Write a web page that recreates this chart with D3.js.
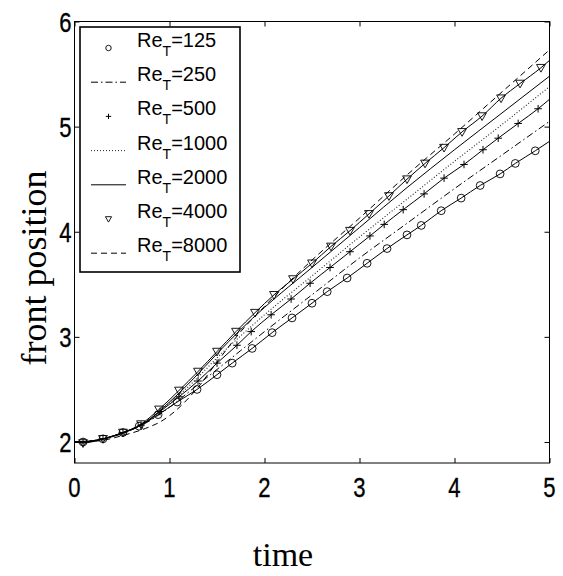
<!DOCTYPE html>
<html><head><meta charset="utf-8">
<script src="https://cdn.jsdelivr.net/npm/d3@7"></script>
<style>body{margin:0;background:#fff}svg{display:block}</style>
</head><body><svg id="c" width="563" height="576"></svg>
<script>
// ---- data ----
const xTicks = [0, 1, 2, 3, 4, 5];
const yTicks = [2, 3, 4, 5, 6];
const xLabel = "time";
const yLabel = "front position";

const t125 = [0, 0.09, 0.30, 0.51, 0.68, 0.88, 1.08, 1.29, 1.50, 1.66, 1.87, 2.08, 2.29, 2.50, 2.66, 2.87, 3.08, 3.29, 3.50, 3.65, 3.86, 4.07, 4.27, 4.48, 4.64, 4.85, 5.0];
const v125 = [2.00, 2.00, 2.03, 2.09, 2.15, 2.26, 2.38, 2.50, 2.64, 2.75, 2.89, 3.04, 3.18, 3.32, 3.43, 3.56, 3.70, 3.84, 3.97, 4.06, 4.20, 4.32, 4.44, 4.55, 4.65, 4.77, 4.86];

const t500 = [0, 0.09, 0.30, 0.51, 0.70, 0.90, 1.10, 1.30, 1.50, 1.71, 1.86, 2.07, 2.28, 2.48, 2.69, 2.90, 3.11, 3.26, 3.46, 3.68, 3.89, 4.10, 4.30, 4.46, 4.67, 4.88, 5.0];
const v500 = [2.00, 2.00, 2.03, 2.09, 2.16, 2.29, 2.43, 2.58, 2.75, 2.92, 3.05, 3.21, 3.36, 3.51, 3.66, 3.81, 3.96, 4.07, 4.21, 4.36, 4.51, 4.64, 4.78, 4.89, 5.03, 5.17, 5.26];

const t4000 = [0, 0.09, 0.30, 0.51, 0.70, 0.89, 1.10, 1.30, 1.50, 1.70, 1.90, 2.10, 2.30, 2.50, 2.70, 2.90, 3.10, 3.31, 3.50, 3.69, 3.89, 4.08, 4.29, 4.49, 4.69, 4.91, 5.0];
const v4000 = [2.00, 1.99, 2.03, 2.09, 2.17, 2.31, 2.49, 2.67, 2.86, 3.05, 3.23, 3.40, 3.55, 3.70, 3.86, 4.01, 4.17, 4.34, 4.50, 4.65, 4.80, 4.95, 5.10, 5.27, 5.41, 5.56, 5.63];

const tGrid = [0, 0.25, 0.5, 0.75, 1.0, 1.25, 1.5, 1.75, 2.0, 2.5, 3.0, 3.5, 4.0, 4.5, 5.0];
const v250  = [2.00, 2.02, 2.08, 2.18, 2.33, 2.51, 2.69, 2.87, 3.05, 3.40, 3.75, 4.08, 4.41, 4.73, 5.05];
const v1000 = [2.00, 2.02, 2.08, 2.19, 2.37, 2.57, 2.80, 3.01, 3.21, 3.58, 3.95, 4.31, 4.67, 5.02, 5.38];
const v2000 = [2.00, 2.02, 2.08, 2.19, 2.38, 2.60, 2.84, 3.07, 3.28, 3.66, 4.04, 4.42, 4.78, 5.13, 5.48];

const t8000 = [0, 0.25, 0.5, 0.75, 0.9, 1.0, 1.15, 1.3, 1.5, 1.75, 2.0, 2.5, 3.0, 3.5, 4.0, 4.5, 5.0];
const v8000 = [2.00, 2.01, 2.06, 2.13, 2.19, 2.25, 2.37, 2.52, 2.76, 3.05, 3.29, 3.73, 4.13, 4.54, 4.93, 5.33, 5.73];

const seriesNames = ["125", "250", "500", "1000", "2000", "4000", "8000"];

// ---- build ----
const svg = d3.select("#c");
const L = 74.5, R = 549.5, T = 21.5, B = 463;
const x = d3.scaleLinear().domain([0, 5]).range([L, R]);
const y = d3.scaleLinear().domain([1.8, 6]).range([B, T]);

const zip = (ts, vs) => ts.map((t, i) => [t, vs[i]]);
const series = [
  {name: seriesNames[0], data: zip(t125, v125),   dash: null,        marker: "circle"},
  {name: seriesNames[1], data: zip(tGrid, v250),  dash: "7,3,1.5,3", marker: null},
  {name: seriesNames[2], data: zip(t500, v500),   dash: null,        marker: "plus"},
  {name: seriesNames[3], data: zip(tGrid, v1000), dash: "1,2",       marker: null},
  {name: seriesNames[4], data: zip(tGrid, v2000), dash: null,        marker: null},
  {name: seriesNames[5], data: zip(t4000, v4000), dash: null,        marker: "tri"},
  {name: seriesNames[6], data: zip(t8000, v8000), dash: "6,4",       marker: null}
];

const line = d3.line().x(d => x(d[0])).y(d => y(d[1])).curve(d3.curveMonotoneX);

svg.append("defs").append("clipPath").attr("id", "clip")
  .append("rect").attr("x", L).attr("y", T).attr("width", R - L).attr("height", B - T);

const plot = svg.append("g").attr("clip-path", "url(#clip)");

function drawMarker(g, type, cx, cy, s) {
  if (type === "circle") {
    g.append("circle").attr("cx", cx).attr("cy", cy).attr("r", 3.9 * s)
      .attr("fill", "none").attr("stroke", "#000").attr("stroke-width", 0.9);
  } else if (type === "plus") {
    const h = 3.8 * s;
    g.append("path").attr("d", `M${cx - h},${cy}H${cx + h}M${cx},${cy - h}V${cy + h}`)
      .attr("stroke", "#000").attr("stroke-width", 1);
  } else if (type === "tri") {
    const h = 4.4 * s;
    g.append("path").attr("d", `M${cx - h},${cy - h * 0.75}L${cx + h},${cy - h * 0.75}L${cx},${cy + h}Z`)
      .attr("fill", "none").attr("stroke", "#000").attr("stroke-width", 0.9);
  }
}

series.forEach(s => {
  plot.append("path").datum(s.data).attr("d", line)
    .attr("fill", "none").attr("stroke", s.name === "1000" ? "#222" : "#000")
    .attr("stroke-width", s.name === "1000" ? 1.1 : 1)
    .attr("stroke-dasharray", s.dash);
  if (s.marker) {
    const g = plot.append("g");
    s.data.slice(1, -1).forEach(d => drawMarker(g, s.marker, x(d[0]), y(d[1]), 1));
  }
});

// frame
svg.append("rect").attr("x", L).attr("y", T).attr("width", R - L).attr("height", B - T)
  .attr("fill", "none").attr("stroke", "#000").attr("stroke-width", 1);

// ticks (inside, all four sides)
const tickLen = 5;
svg.append("g").attr("transform", `translate(0,${B})`)
  .call(d3.axisBottom(x).tickValues(xTicks).tickSize(-tickLen).tickFormat(""))
  .call(g => g.select(".domain").remove());
svg.append("g").attr("transform", `translate(0,${T})`)
  .call(d3.axisTop(x).tickValues(xTicks).tickSize(-tickLen).tickFormat(""))
  .call(g => g.select(".domain").remove());
svg.append("g").attr("transform", `translate(${L},0)`)
  .call(d3.axisLeft(y).tickValues(yTicks).tickSize(-tickLen).tickFormat(""))
  .call(g => g.select(".domain").remove());
svg.append("g").attr("transform", `translate(${R},0)`)
  .call(d3.axisRight(y).tickValues(yTicks).tickSize(-tickLen).tickFormat(""))
  .call(g => g.select(".domain").remove());

// tick labels
const tickFont = "'Liberation Sans', Arial, sans-serif";
xTicks.forEach(v => {
  svg.append("text").attr("transform", `translate(${x(v)},${B + 34}) scale(0.92,1.18)`)
    .attr("text-anchor", "middle").attr("font-family", tickFont).attr("font-size", 24)
    .attr("stroke", "#000").attr("stroke-width", 0.3)
    .text(v);
});
yTicks.forEach(v => {
  svg.append("text").attr("transform", `translate(${L - 3},${y(v) + 10}) scale(0.92,1.18)`)
    .attr("text-anchor", "end").attr("font-family", tickFont).attr("font-size", 24)
    .attr("stroke", "#000").attr("stroke-width", 0.3)
    .text(v);
});

// axis titles
const serif = "'Liberation Serif', 'Times New Roman', serif";
svg.append("text").attr("x", 283).attr("y", 566).attr("text-anchor", "middle")
  .attr("font-family", serif).attr("font-size", 34).text(xLabel);
svg.append("text").attr("transform", `translate(46,268) rotate(-90)`).attr("text-anchor", "middle")
  .attr("font-family", serif).attr("font-size", 36).text(yLabel);

// legend
const lg = svg.append("g");
lg.append("rect").attr("x", 80).attr("y", 27).attr("width", 160).attr("height", 245)
  .attr("fill", "#fff").attr("stroke", "#000").attr("stroke-width", 1.6);
series.forEach((s, i) => {
  const cy = 48 + i * 34.2;
  if (s.marker) {
    drawMarker(lg, s.marker, 108.5, cy, 0.7);
  } else {
    lg.append("line").attr("x1", 91).attr("x2", 126).attr("y1", cy).attr("y2", cy)
      .attr("stroke", s.name === "1000" ? "#222" : "#000").attr("stroke-width", 1)
      .attr("stroke-dasharray", s.dash);
  }
  const tx = lg.append("text").attr("x", 137).attr("y", cy - 1)
    .attr("font-family", tickFont).attr("font-size", 20);
  tx.append("tspan").text("Re");
  tx.append("tspan").attr("dy", 9).attr("font-size", 14).text("T");
  tx.append("tspan").attr("dy", -9).text("=" + s.name);
});
</script>
</body></html>
